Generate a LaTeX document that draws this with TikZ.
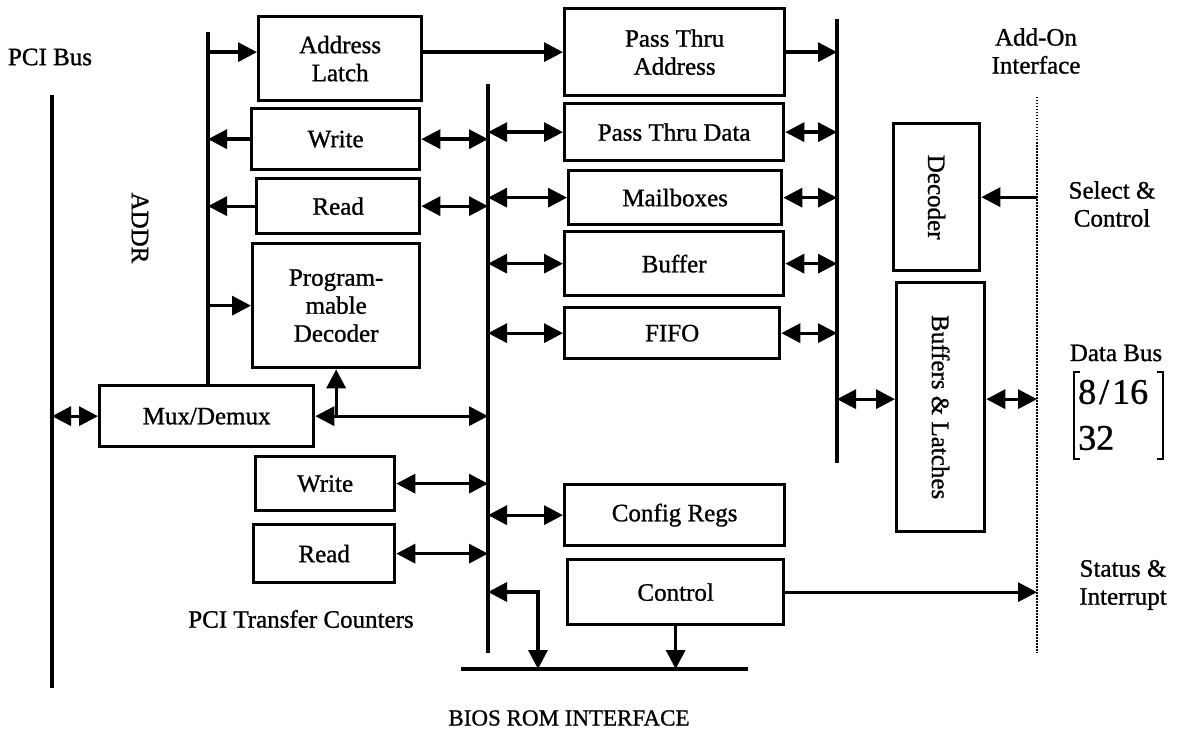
\documentclass[tikz,border=0pt]{standalone}
\usepackage{fontspec}
\setmainfont{Liberation Serif}[FakeBold=1]
\usepackage{graphicx}
\usetikzlibrary{arrows.meta}
\tikzset{
  every node/.style={font=\fontsize{25}{28}\selectfont, inner sep=0pt},
  box/.style={draw, line width=3.3pt, anchor=north west, align=center},
  bus/.style={line width=4.5pt},
  thinbus/.style={line width=3.5pt},
  arr/.style={line width=3.3pt, -{Triangle[length=19pt,width=19pt]}},
  darr/.style={line width=3.3pt, {Triangle[length=19pt,width=19pt]}-{Triangle[length=19pt,width=19pt]}},
  dotline/.style={line width=1.5pt, dash pattern=on 1.5pt off 1.5pt},
  lbl/.style={align=center},
  brk/.style={line width=2.5pt}
}
\begin{document}
\begin{tikzpicture}[x=1pt,y=-1pt]
\fill[white] (0,0) rectangle (1183,733);
\useasboundingbox (0,0) rectangle (1183,733);

% bus coordinates
\coordinate (pcit) at (52,95);
\coordinate (pcib) at (52,688);
\coordinate (addrt) at (208,32);
\coordinate (dbt) at (488,84);
\coordinate (dbb) at (488,653);
\coordinate (rbt) at (837,19);
\coordinate (rbb) at (837,463);
\coordinate (dott) at (1037,97);
\coordinate (dotb) at (1037,653);
\coordinate (biosl) at (461,669);
\coordinate (biosr) at (748,669);
\coordinate (bk) at (538,592);

% boxes
\node[box, minimum width=163pt, minimum height=84pt] (al) at (257,15) {Address\\Latch};
\node[box, minimum width=168pt, minimum height=61pt] (wr1) at (250,107) {Write};
\node[box, minimum width=163pt, minimum height=55pt] (rd1) at (255,177) {Read};
\node[box, minimum width=167pt, minimum height=124pt] (pd) at (251,242) {Program-\\mable\\Decoder};
\node[box, minimum width=214pt, minimum height=61pt] (mux) at (98,384) {Mux/Demux};
\node[box, minimum width=139pt, minimum height=54pt] (wr2) at (254,455) {Write};
\node[box, minimum width=141pt, minimum height=58pt] (rd2) at (252,523) {Read};
\node[box, minimum width=220pt, minimum height=87pt] (pta) at (563,7) {Pass Thru\\Address};
\node[box, minimum width=219pt, minimum height=57pt] (ptd) at (563,102) {Pass Thru Data};
\node[box, minimum width=213pt, minimum height=54pt] (mb) at (567,169) {Mailboxes};
\node[box, minimum width=219pt, minimum height=64pt] (buf) at (563,230) {Buffer};
\node[box, minimum width=215pt, minimum height=51pt] (fifo) at (563,306) {FIFO};
\node[box, minimum width=220pt, minimum height=61pt] (cfg) at (563,483) {Config Regs};
\node[box, minimum width=216pt, minimum height=65pt] (ctl) at (566,558) {Control};
\node[box, minimum width=86pt, minimum height=147pt] (dec) at (892,122) {\rotatebox{-90}{Decoder}};
\node[box, minimum width=88pt, minimum height=249pt] (bl) at (895,281) {\rotatebox{-90}{Buffers \& Latches}};

% buses
\draw[thinbus] (pcit) -- (pcib);
\draw[bus] (addrt) -- (addrt |- mux.north);
\draw[bus] (dbt) -- (dbb);
\draw[bus] (rbt) -- (rbb);
\draw[bus] (biosl) -- (biosr);
\draw[dotline] (dott) -- (dotb);

% ADDR side connectors
\draw[arr] (addrt |- pta.west) -- (al.west |- pta.west);
\draw[arr] (al.east |- pta.west) -- (pta.west);
\draw[arr] (pta.east) -- (pta.east -| rbt);
\draw[arr] (wr1.west) -- (wr1.west -| addrt);
\draw[arr] (rd1.west) -- (rd1.west -| addrt);
\draw[arr] (pd.west -| addrt) -- (pd.west);
\draw[darr] (mux.west -| pcit) -- (mux.west);
\draw[darr] (mux.east) -- (mux.east -| dbt);
\draw[arr] (pd.south |- mux.east) -- (pd.south);

% data bus connectors (left)
\draw[darr] (wr1.east) -- (wr1.east -| dbt);
\draw[darr] (rd1.east) -- (rd1.east -| dbt);
\draw[darr] (wr2.east) -- (wr2.east -| dbt);
\draw[darr] (rd2.east) -- (rd2.east -| dbt);

% data bus connectors (right)
\draw[darr] (ptd.west -| dbt) -- (ptd.west);
\draw[darr] (mb.west -| dbt) -- (mb.west);
\draw[darr] (buf.west -| dbt) -- (buf.west);
\draw[darr] (fifo.west -| dbt) -- (fifo.west);
\draw[darr] (cfg.west -| dbt) -- (cfg.west);
\draw[darr] (dbt |- bk) -- (bk) -- (bk |- biosl);
\draw[arr] (ctl.south) -- (ctl.south |- biosl);
\draw[arr] (ctl.east) -- (ctl.east -| dott);

% right bus connectors
\draw[darr] (ptd.east) -- (ptd.east -| rbt);
\draw[darr] (mb.east) -- (mb.east -| rbt);
\draw[darr] (buf.east) -- (buf.east -| rbt);
\draw[darr] (fifo.east) -- (fifo.east -| rbt);
\draw[darr] ([yshift=8pt]bl.west -| rbt) -- ([yshift=8pt]bl.west);
\draw[darr] ([yshift=8pt]bl.east) -- ([yshift=8pt]bl.east -| dott);
\draw[arr] (dec.east -| dott) -- (dec.east);

% labels
\node (pcilbl) at (50,57) {PCI Bus};
\node[rotate=-90] (addrlbl) at (140,228) {ADDR};
\node (ptclbl) at (301,619) {PCI Transfer Counters};
\node[font=\fontsize{23}{28}\selectfont] (bioslbl) at (569,718) {BIOS ROM INTERFACE};
\node[lbl] (addonlbl) at (1036,51) {Add-On\\Interface};
\node[lbl] (sellbl) at (1112,204) {Select \&\\Control};
\node (dblbl) at (1116,353) {Data Bus};
\node[anchor=west, font=\fontsize{36}{40}\selectfont] (w16) at (1078,392) {8\kern3pt/\kern3pt16};
\node[anchor=west, font=\fontsize{36}{40}\selectfont] (w32) at (1078,438) {32};
\node[lbl] (statlbl) at (1123,585) {Status \&\\Interrupt};

% brackets
\draw[brk] (1080,372) -- (1074,372) -- (1074,459) -- (1080,459);
\draw[brk] (1157,372) -- (1163,372) -- (1163,459) -- (1157,459);
\end{tikzpicture}
\end{document}
